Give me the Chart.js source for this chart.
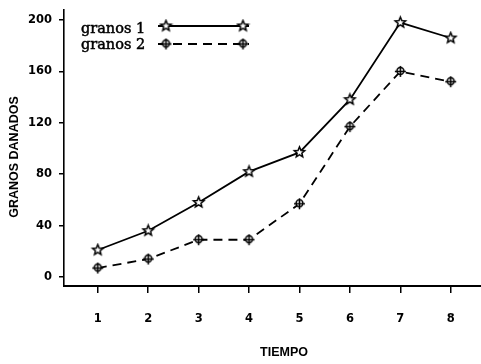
<!DOCTYPE html>
<html>
<head>
<meta charset="utf-8">
<script src="https://cdn.jsdelivr.net/npm/chart.js@4.4.1/dist/chart.umd.min.js"></script>
<style>
html, body { margin: 0; padding: 0; background: #fff; }
</style>
</head>
<body>
<canvas id="grafica" width="481" height="364"></canvas>
<script>
var tiempo = [1, 2, 3, 4, 5, 6, 7, 8];
var granos1 = [21, 36, 58, 82, 97, 138, 198, 186];
var granos2 = [7, 14, 29, 29, 57, 117, 160, 152];
var yTicks = [0, 40, 80, 120, 160, 200];
var nombres = ['granos 1', 'granos 2'];
var tituloX = 'TIEMPO';
var tituloY = 'GRANOS DANADOS';

// marcadores hechos a mano (estrella y trebol)
function makeStar(r) {
    var c = document.createElement('canvas');
    c.width = 2 * r + 4; c.height = 2 * r + 4;
    var g = c.getContext('2d');
    var cx = c.width / 2, cy = c.height / 2;
    g.beginPath();
    for (var i = 0; i < 10; i++) {
        var a = -Math.PI / 2 + i * Math.PI / 5;
        var rr = (i % 2 == 0) ? r : r * 0.45;
        var px = cx + rr * Math.cos(a), py = cy + rr * Math.sin(a);
        if (i == 0) g.moveTo(px, py); else g.lineTo(px, py);
    }
    g.closePath();
    g.fillStyle = '#fff';
    g.fill();
    g.strokeStyle = '#000';
    g.lineWidth = 1.5;
    g.stroke();
    return c;
}

function makeClover(r) {
    var c = document.createElement('canvas');
    c.width = 2 * r + 4; c.height = 2 * r + 4;
    var g = c.getContext('2d');
    var cx = c.width / 2, cy = c.height / 2;
    g.strokeStyle = '#000';
    g.lineWidth = 1.5;
    g.beginPath();
    g.arc(cx, cy - 0.5, r * 0.62, 0, Math.PI * 2);
    g.fillStyle = '#fff';
    g.fill();
    g.stroke();
    g.beginPath();
    g.moveTo(cx, cy - r); g.lineTo(cx, cy + r);
    g.moveTo(cx - r, cy); g.lineTo(cx + r, cy);
    g.stroke();
    return c;
}

var star = makeStar(5.5);
var clover = makeClover(5.5);

function pares(vals) {
    return tiempo.map(function (t, i) { return { x: t, y: vals[i] }; });
}

var textos = {
    id: 'textos',
    afterDraw: function (chart) {
        var ctx = chart.ctx;
        ctx.save();
        ctx.fillStyle = '#000';
        // titulo eje x
        ctx.font = 'bold 12.5px "Liberation Sans"';
        ctx.textAlign = 'center';
        ctx.textBaseline = 'middle';
        ctx.fillText(tituloX, 284, 353);
        // titulo eje y
        ctx.save();
        ctx.translate(15, 157);
        ctx.rotate(-Math.PI / 2);
        ctx.fillText(tituloY, 0, 0);
        ctx.restore();

        // leyenda
        ctx.font = '14.5px "DejaVu Serif"';
        ctx.textAlign = 'left';
        ctx.textBaseline = 'alphabetic';
        ctx.strokeStyle = '#000';
        var filas = [26, 44];
        var bases = [33, 49];
        var marcas = [star, clover];
        var dashes = [[], [9, 6]];
        for (var i = 0; i < nombres.length; i++) {
            ctx.lineWidth = 0.5;
            ctx.fillText(nombres[i], 81, bases[i]);
            ctx.strokeText(nombres[i], 81, bases[i]);
            ctx.beginPath();
            ctx.setLineDash(dashes[i]);
            ctx.lineWidth = 1.8;
            ctx.moveTo(158, filas[i]);
            ctx.lineTo(249, filas[i]);
            ctx.stroke();
            ctx.setLineDash([]);
            var m = marcas[i];
            ctx.drawImage(m, 166 - m.width / 2, filas[i] - m.height / 2);
            ctx.drawImage(m, 243 - m.width / 2, filas[i] - m.height / 2);
        }
        ctx.restore();
    }
};

var ctx = document.getElementById('grafica').getContext('2d');
var chart = new Chart(ctx, {
    type: 'line',
    data: {
        datasets: [{
            label: nombres[0],
            data: pares(granos1),
            borderColor: '#000',
            borderWidth: 1.8,
            pointStyle: star,
            tension: 0
        }, {
            label: nombres[1],
            data: pares(granos2),
            borderColor: '#000',
            borderWidth: 1.8,
            borderDash: [9, 6],
            pointStyle: clover,
            tension: 0
        }]
    },
    options: {
        responsive: false,
        animation: false,
        devicePixelRatio: 1,
        layout: { autoPadding: false, padding: { top: 10, right: 0, left: 0, bottom: 0 } },
        plugins: {
            legend: { display: false },
            tooltip: { enabled: false }
        },
        scales: {
            x: {
                type: 'linear',
                min: 0.33,
                max: 8.6,
                afterFit: function (s) {
                    s.height = 78;
                    s.paddingLeft = 0;
                    s.paddingRight = 0;
                },
                afterBuildTicks: function (s) {
                    s.ticks = tiempo.map(function (v) { return { value: v }; });
                },
                grid: { drawOnChartArea: false, drawTicks: true, tickLength: 7, color: '#000', lineWidth: 1.5 },
                border: { color: '#000', width: 2 },
                ticks: {
                    color: '#000',
                    padding: 19,
                    font: { family: 'DejaVu Sans', weight: 'bold', size: 11.5 }
                }
            },
            y: {
                min: -7,
                max: 207.8,
                afterFit: function (s) {
                    s.width = 64;
                    s.paddingTop = 0;
                    s.paddingBottom = 0;
                },
                afterBuildTicks: function (s) {
                    s.ticks = yTicks.map(function (v) { return { value: v }; });
                },
                grid: { drawOnChartArea: false, drawTicks: true, tickLength: 5, color: '#000', lineWidth: 1.5 },
                border: { color: '#000', width: 1.6 },
                ticks: {
                    color: '#000',
                    padding: 7,
                    font: { family: 'DejaVu Sans', weight: 'bold', size: 11.5 }
                }
            }
        }
    },
    plugins: [textos]
});
</script>
</body>
</html>
